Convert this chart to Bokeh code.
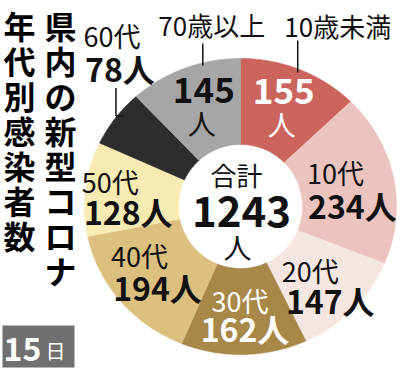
import numpy as np
from bokeh.plotting import figure
from bokeh.models import Range1d
from bokeh.core.properties import value
from bokeh.embed import file_html
from bokeh.resources import INLINE

# ---------------- data ----------------
AGE_GROUPS = ["10歳未満", "10代", "20代", "30代", "40代", "50代", "60代", "70歳以上"]
COUNTS = [155, 234, 147, 162, 194, 128, 78, 145]
COLORS = ["#cb645c", "#ecc4bf", "#f6e6e2", "#a88848", "#dcc080", "#f7eab2", "#2d2d2d", "#a6a6a6"]
TITLE_COL1 = "県内の新型コロナ"
TITLE_COL2 = "年代別感染者数"
TOTAL_LABEL = "合計"
UNIT = "人"
DATE_DAY = "15"
DATE_UNIT = "日"

# ---------------- layout / style ----------------
FONT = value("Noto Sans CJK JP")
W, H = 400, 370
CX, CY = 240, 206          # donut centre (px)
RX, RY, RIN = 156, 148, 62  # outer radii and hole radius
R_LAB = 108

# per-wedge label nudges: (label dx, dy), (count dx, dy)
NUDGE = {
    1: ((-11, -13), (6, 20)),
    2: ((-8, -11), (12, 19)),
    3: ((-3, -14), (2, 14)),
    4: ((-18, -20), (0, 11)),
    5: ((-23, -12), (-5, 17)),
    6: ((-42, -106), (-34, -74)),
}
WHITE_TEXT = {0, 3}

p = figure(width=W, height=H, x_range=Range1d(0, W), y_range=Range1d(H, 0),
           x_axis_type=None, y_axis_type=None, output_backend="svg",
           toolbar_location=None, min_border=0, outline_line_color=None,
           background_fill_color="white", border_fill_color="white")
p.grid.visible = False

total = sum(COUNTS)
cum = np.concatenate([[0], np.cumsum(COUNTS)])
a0 = cum[:-1] / total * 2 * np.pi
a1 = cum[1:] / total * 2 * np.pi
mid = (a0 + a1) / 2

xs, ys = [], []
for s, e in zip(a0, a1):
    t = np.linspace(s, e, 80)
    ox, oy = CX + RX * np.sin(t), CY - RY * np.cos(t)
    ix, iy = CX + RIN * np.sin(t[::-1]), CY - RIN * np.cos(t[::-1])
    xs.append(np.concatenate([ox, ix]).tolist())
    ys.append(np.concatenate([oy, iy]).tolist())
p.patches(xs, ys, fill_color=COLORS, line_color=COLORS, line_width=0.6)


def txt(x, y, s, size, color="#111111", bold=False, align="center"):
    p.text(x=[x], y=[y], text=[s], text_font=FONT, text_font_size=value(f"{size}px"),
           text_color=color, text_font_style="bold" if bold else "normal",
           text_align=align, text_baseline="middle")


def seg(x0, y0, x1, y1):
    p.segment(x0=[x0], y0=[y0], x1=[x1], y1=[y1], line_color="#111111", line_width=1.5)


ax = CX + R_LAB * np.sin(mid)
ay = CY - R_LAB * np.cos(mid)

for i, (name, c) in enumerate(zip(AGE_GROUPS, COUNTS)):
    col = "white" if i in WHITE_TEXT else "#111111"
    if i in NUDGE:
        (l_dx, l_dy), (c_dx, c_dy) = NUDGE[i]
        txt(ax[i] + l_dx, ay[i] + l_dy, name, 27, col)
        txt(ax[i] + c_dx, ay[i] + c_dy, f"{c}{UNIT}", 32, col, bold=True)
        if i == 6:
            lx, ly = ax[i] + c_dx - 4, ay[i] + c_dy
            seg(lx, ly + 20, lx, ly + 48)
            seg(lx, ly + 48, lx + 8, ly + 48)
    else:
        txt(ax[i] + 2, ay[i] - 16, f"{c}", 35, col, bold=True)
        txt(ax[i], ay[i] + 17, UNIT, 28, col)

# outside labels with leader lines (10歳未満, 70歳以上)
lab0 = (ax[0] + 56, 25)
txt(lab0[0], lab0[1], AGE_GROUPS[0], 26)
seg(lab0[0] - 40, lab0[1] + 15, lab0[0] - 40, lab0[1] + 47)
lab7 = (ax[7] + 10, 24)
txt(lab7[0], lab7[1], AGE_GROUPS[7], 26)
seg(lab7[0] - 9, lab7[1] + 19, lab7[0] - 9, lab7[1] + 41)

# centre total
txt(CX - 4, CY - 32, TOTAL_LABEL, 26)
txt(CX + 1, CY + 5, f"{total}", 42, bold=True)
txt(CX - 3, CY + 40, UNIT, 28)

# vertical title
for k, ch in enumerate(TITLE_COL1):
    txt(60, 24 + 35.1 * k, ch, 32, "#000000", bold=True)
for k, ch in enumerate(TITLE_COL2):
    txt(19, 24 + 35.1 * k, ch, 32, "#000000", bold=True)

# date box
p.quad(left=[2], right=[74], top=[325], bottom=[367], fill_color="#707070", line_color=None)
txt(22, 348, DATE_DAY, 32, "white", bold=True)
txt(55, 350, DATE_UNIT, 20, "white")

open("out.html", "w").write(file_html(p, INLINE))
